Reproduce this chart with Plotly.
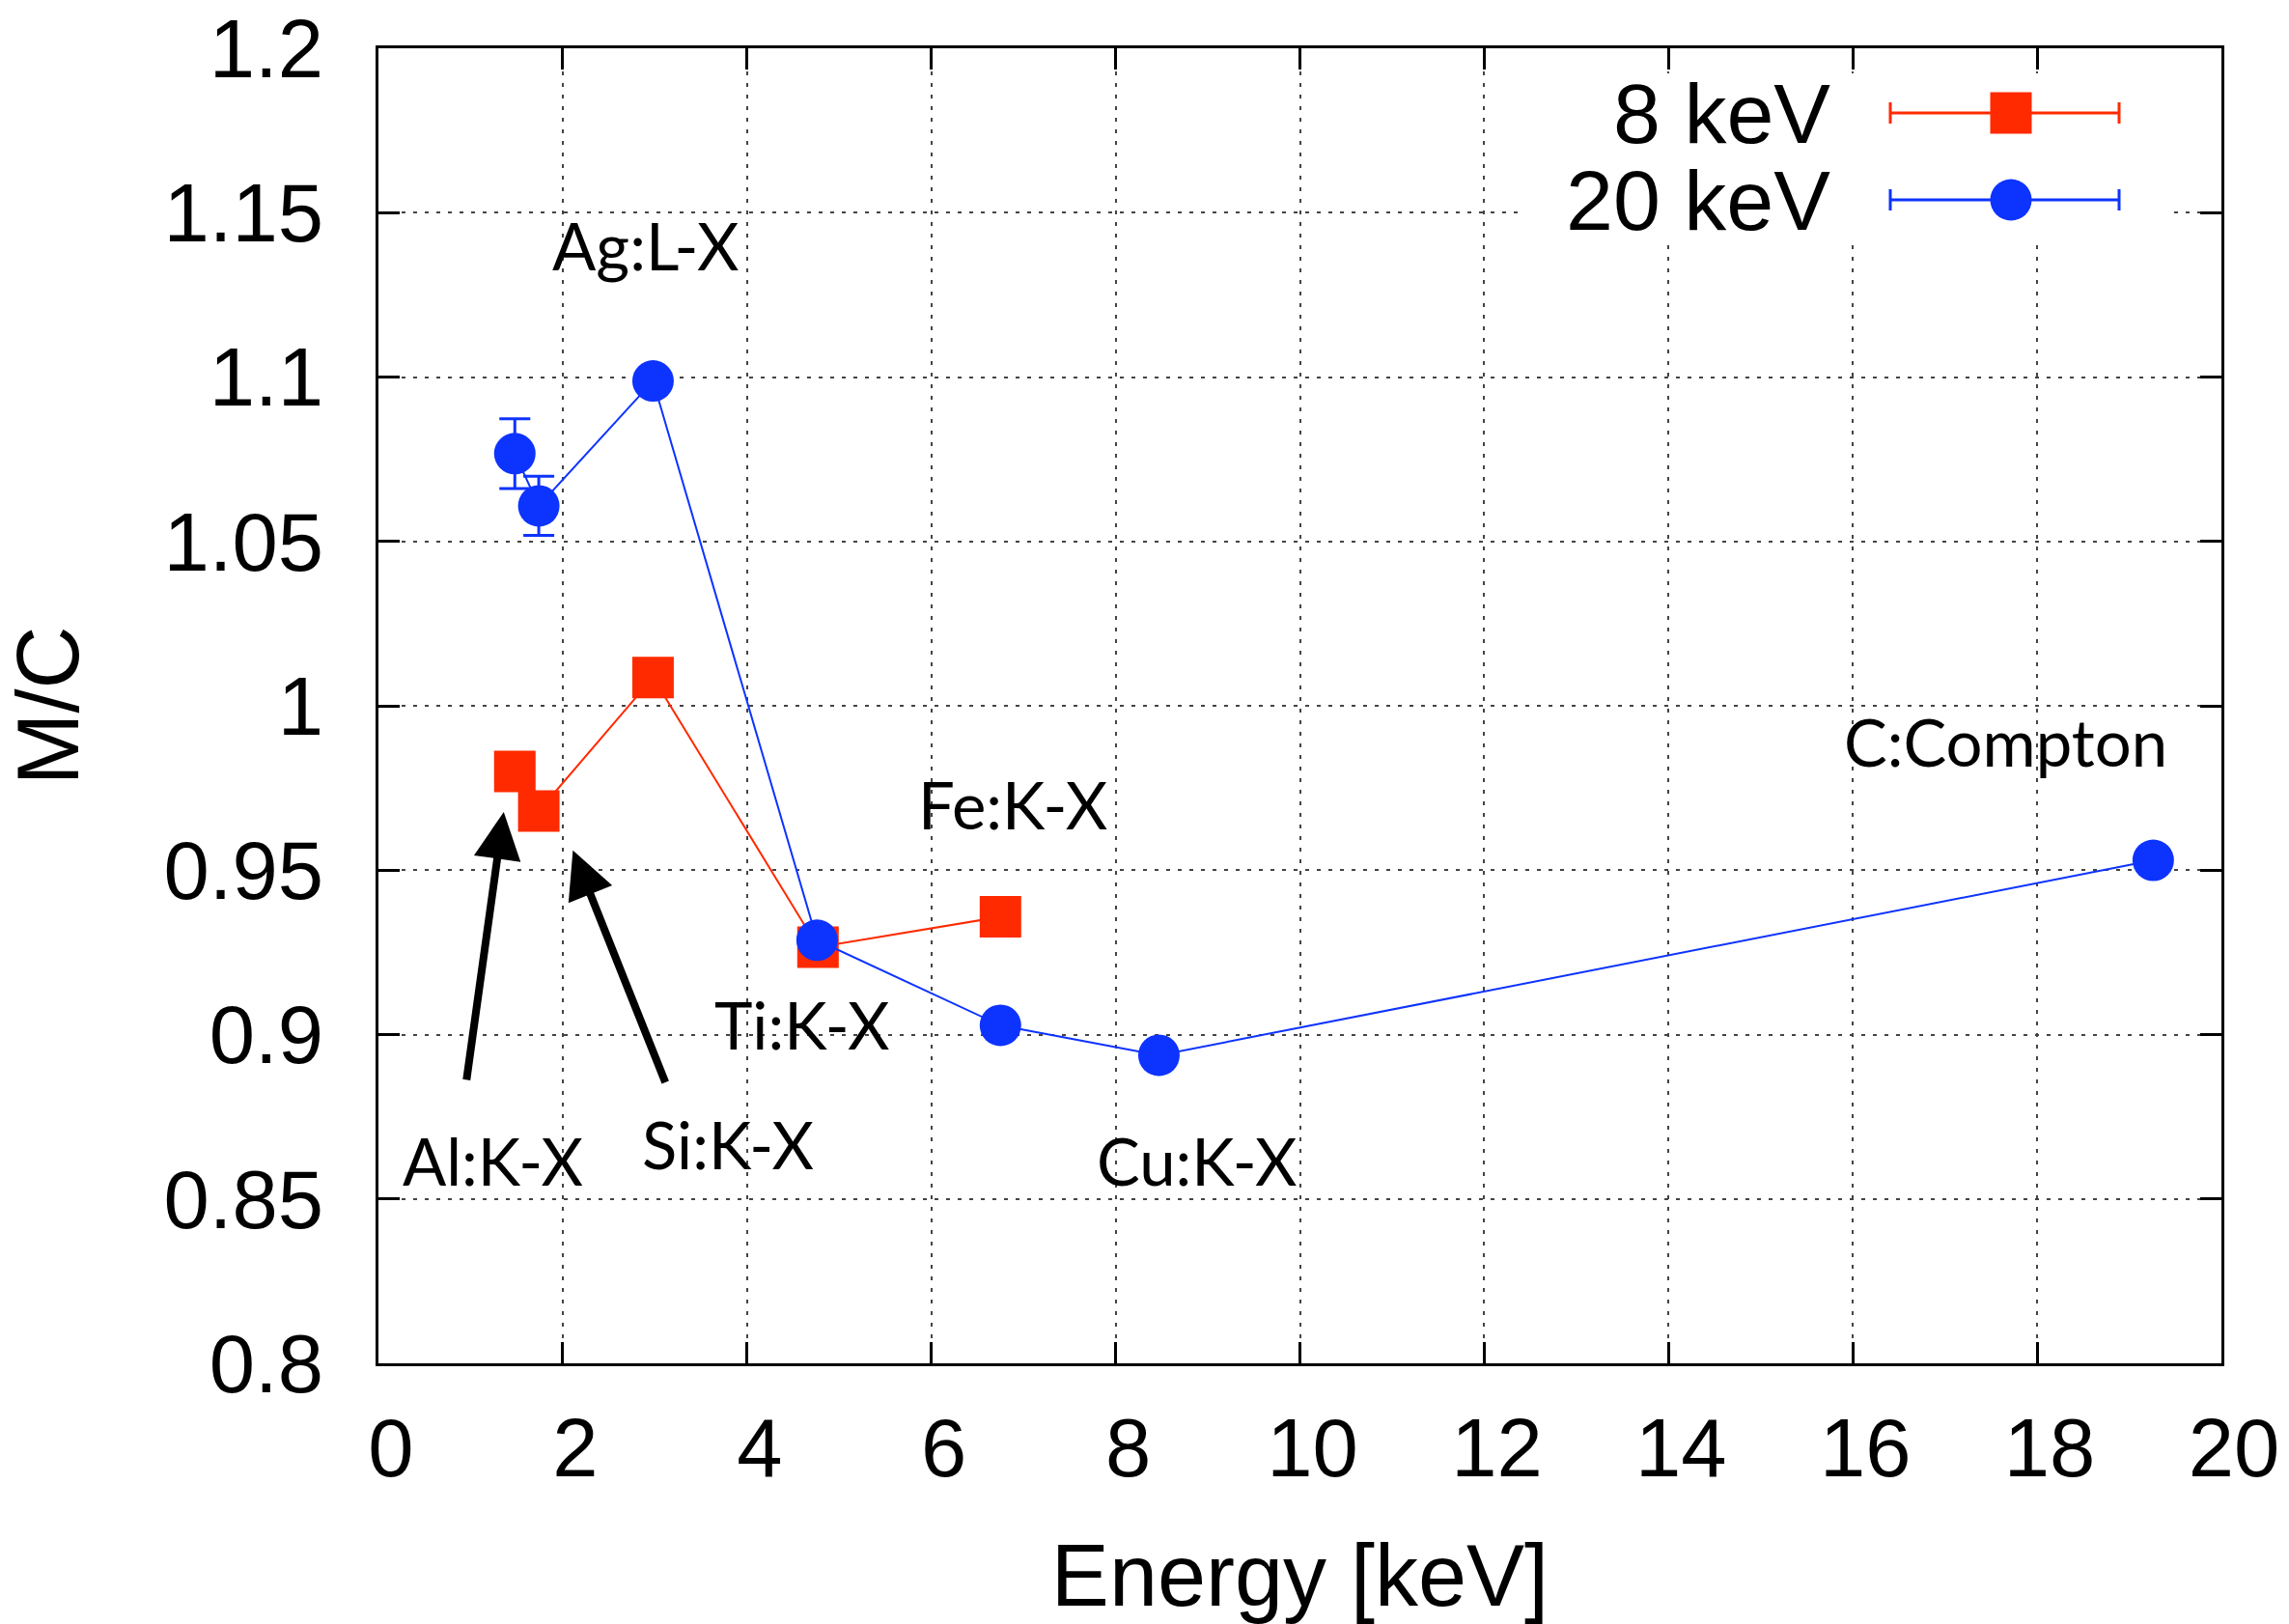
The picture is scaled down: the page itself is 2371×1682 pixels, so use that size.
import plotly.graph_objects as go

# ---- data -------------------------------------------------------------
# 8 keV beam: measured/calculated ratio per fluorescence line
energy_8kev = [1.48, 1.74, 2.98, 4.77, 6.75]
ratio_8kev = [0.980, 0.968, 1.0086, 0.9266, 0.9358]
err_8kev = [0.002, 0.002, 0.002, 0.003, 0.002]

# 20 keV beam
energy_20kev = [1.48, 1.74, 2.98, 4.76, 6.75, 8.47, 19.26]
ratio_20kev = [1.0767, 1.0608, 1.0988, 0.9287, 0.9028, 0.8937, 0.953]
err_20kev = [0.0106, 0.009, 0.002, 0.003, 0.002, 0.002, 0.002]

# line labels: (text, x, y)
line_labels = [
    ("Ag:L-X", 2.90, 1.140),
    ("Fe:K-X", 6.88, 0.970),
    ("Ti:K-X", 4.59, 0.903),
    ("Cu:K-X", 8.88, 0.8617),
    ("C:Compton", 17.66, 0.989),
    ("Al:K-X", 1.24, 0.8617),
    ("Si:K-X", 3.79, 0.8667),
]
# arrows: (tail x, tail y, head x, head y)
arrows = [
    (0.954, 0.8858, 1.36, 0.9677),
    (3.12, 0.885, 2.11, 0.956),
]

x_ticks = [0, 2, 4, 6, 8, 10, 12, 14, 16, 18, 20]
y_ticks = [0.8, 0.85, 0.9, 0.95, 1.0, 1.05, 1.1, 1.15, 1.2]
y_tick_text = ["0.8", "0.85", "0.9", "0.95", "1", "1.05", "1.1", "1.15", "1.2"]

series_names = ["8 keV", "20 keV"]

RED = "#ff2a00"
BLUE = "#0d33ff"

# ---- figure geometry ----------------------------------------------------
W, H = 2371, 1682
L, R, T, B = 392, 2301, 50, 1412


def px(xpix):
    return (xpix - L) / (R - L)


def py(ypix):
    return (B - ypix) / (B - T)


fig = go.Figure()

fig.add_trace(go.Scatter(
    x=energy_8kev, y=ratio_8kev, mode="lines+markers", name=series_names[0],
    line=dict(color=RED, width=2),
    marker=dict(symbol="square", size=43, color=RED),
    error_y=dict(type="data", array=err_8kev, color=RED, thickness=3, width=16),
    showlegend=False,
))
fig.add_trace(go.Scatter(
    x=energy_20kev, y=ratio_20kev, mode="lines+markers", name=series_names[1],
    line=dict(color=BLUE, width=2),
    marker=dict(symbol="circle", size=43, color=BLUE),
    error_y=dict(type="data", array=err_20kev, color=BLUE, thickness=3, width=16),
    showlegend=False,
))

label_font = dict(family="Lato, Open Sans, sans-serif", size=67, color="black")
annotations = []
for text, lx, ly in line_labels:
    annotations.append(dict(
        x=lx, y=ly, xref="x", yref="y", text=text, showarrow=False,
        xanchor="center", yanchor="middle", font=label_font,
    ))
for tx, ty, hx, hy in arrows:
    annotations.append(dict(
        x=hx, y=hy, xref="x", yref="y", ax=tx, ay=ty, axref="x", ayref="y",
        text="", showarrow=True, arrowhead=2, arrowsize=1.22, arrowwidth=8,
        arrowcolor="black", standoff=0,
    ))

# ---- key (text on the left, sample with error bar on the right) ---------
key_font = dict(family="Liberation Sans, Arial, sans-serif", size=88, color="black")
shapes = [dict(type="rect", xref="paper", yref="paper",
               x0=px(1575), x1=px(2246), y0=py(252), y1=py(76),
               fillcolor="white", line=dict(width=0), layer="above")]
key_rows = [(series_names[0], RED, "square", 117), (series_names[1], BLUE, "circle", 207)]
for name, color, sym, yrow in key_rows:
    annotations.append(dict(
        x=px(1898), y=py(yrow), xref="paper", yref="paper", text=name,
        showarrow=False, xanchor="right", yanchor="middle", font=key_font,
    ))
    shapes.append(dict(type="line", xref="paper", yref="paper",
                       x0=px(1958), x1=px(2195), y0=py(yrow), y1=py(yrow),
                       line=dict(color=color, width=3), layer="above"))
    for xc in (1958, 2195):
        shapes.append(dict(type="line", xref="paper", yref="paper",
                           x0=px(xc), x1=px(xc), y0=py(yrow - 11), y1=py(yrow + 11),
                           line=dict(color=color, width=3), layer="above"))
    shapes.append(dict(type="rect" if sym == "square" else "circle",
                       xref="paper", yref="paper",
                       x0=px(2083 - 21.5), x1=px(2083 + 21.5),
                       y0=py(yrow + 21.5), y1=py(yrow - 21.5),
                       fillcolor=color, line=dict(width=0), layer="above"))

axis_font = dict(family="Liberation Sans, Arial, sans-serif", size=85, color="black")
title_font = dict(family="Liberation Sans, Arial, sans-serif", size=90, color="black")
common_axis = dict(
    showline=True, linecolor="black", linewidth=3, mirror="ticks",
    ticks="inside", ticklen=22, tickwidth=3, tickcolor="black",
    showgrid=True, gridcolor="#444444", gridwidth=1.5, griddash="4px,8px",
    zeroline=False, tickfont=axis_font,
)

fig.update_layout(
    width=W, height=H,
    margin=dict(l=L, r=W - R, t=T, b=H - B, autoexpand=False),
    paper_bgcolor="white", plot_bgcolor="white",
    xaxis=dict(range=[0, 20], tickvals=x_ticks, ticklabelstandoff=12,
               ticklabelshift=13,
               title=dict(text="Energy [keV]", font=title_font, standoff=63),
               **common_axis),
    yaxis=dict(range=[0.8, 1.2], tickvals=y_ticks, ticktext=y_tick_text,
               ticklabelstandoff=37,
               title=dict(text="M/C", font=title_font, standoff=68),
               **common_axis),
    annotations=annotations,
    shapes=shapes,
)

fig.write_html("out.html")
